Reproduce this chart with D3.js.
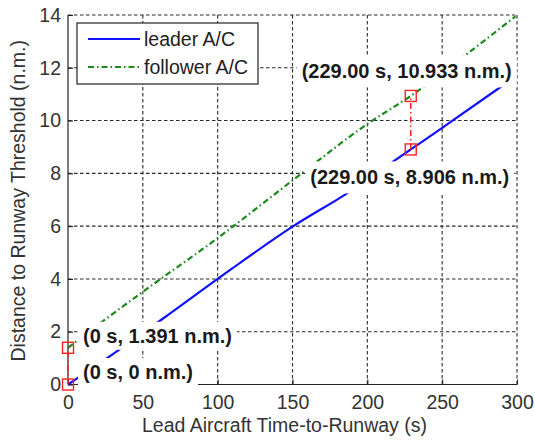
<!DOCTYPE html>
<html>
<head>
<meta charset="utf-8">
<script src="https://cdn.jsdelivr.net/npm/d3@7"></script>
<style>
  html, body { margin: 0; padding: 0; background: #fff; }
  svg { display: block; font-family: "Liberation Sans", Arial, sans-serif; }
</style>
</head>
<body>
<svg id="chart" width="535" height="440"></svg>
<script>
// ---- data ----
const leaderT = [0, 30, 63.5, 110, 150, 188, 216, 229, 250, 291];
const leaderD = [0, 1.15, 2.5, 4.41, 5.98, 7.3, 8.4, 8.906, 9.72, 11.35];
const followerT = [0, 25, 57, 88, 100, 155, 200, 229, 267, 299];
const followerD = [1.391, 2.47, 3.8, 5.05, 5.55, 7.95, 9.87, 10.933, 12.54, 13.95];
const xTicks = [0, 50, 100, 150, 200, 250, 300];
const yTicks = [0, 2, 4, 6, 8, 10, 12, 14];
const seriesNames = ["leader A/C", "follower A/C"];
const tipT = [0, 0, 229, 229];
const tipD = [0, 1.391, 8.906, 10.933];
const tipLabels = ["(0 s, 0 n.m.)", "(0 s, 1.391 n.m.)", "(229.00 s, 8.906 n.m.)", "(229.00 s, 10.933 n.m.)"];
const xLabel = "Lead Aircraft Time-to-Runway (s)";
const yLabel = "Distance to Runway Threshold (n.m.)";

// ---- layout ----
const L = 68, R = 517, T = 15, B = 384.5;
const svg = d3.select("#chart");
const x = d3.scaleLinear().domain([0, 300]).range([L, R]);
const y = d3.scaleLinear().domain([0, 14]).range([B, T]);

const FS = 19.5;
const gridColor = "#2a2a2a";
const dash = "3.5,2.5";

// grid
const g = svg.append("g");
g.selectAll("line.vg").data(xTicks.filter(d => d > 0)).join("line")
  .attr("x1", d => x(d)).attr("x2", d => x(d)).attr("y1", y(0)).attr("y2", y(14))
  .attr("stroke", gridColor).attr("stroke-width", 1.1).attr("stroke-dasharray", dash);
g.selectAll("line.hg").data(yTicks.filter(d => d > 0)).join("line")
  .attr("x1", x(0)).attr("x2", x(300)).attr("y1", d => y(d)).attr("y2", d => y(d))
  .attr("stroke", gridColor).attr("stroke-width", 1.1).attr("stroke-dasharray", dash);

// axes (left and bottom, ticks inward)
const xAxis = d3.axisBottom(x).tickValues(xTicks).tickSize(-5).tickPadding(11).tickFormat(d3.format("d"));
const yAxis = d3.axisLeft(y).tickValues(yTicks).tickSize(-5).tickPadding(7).tickFormat(d3.format("d"));
const gx = svg.append("g").attr("transform", `translate(0,${B})`).call(xAxis);
const gy = svg.append("g").attr("transform", `translate(${L},0)`).call(yAxis);
[gx, gy].forEach(a => {
  a.select(".domain").attr("stroke", "#222").attr("stroke-width", 1.2);
  a.selectAll(".tick line").attr("stroke", "#222").attr("stroke-width", 1.1);
  a.selectAll(".tick text").attr("font-size", FS).attr("fill", "#333")
    .attr("font-family", "Liberation Sans, Arial, sans-serif");
});
gx.select(".domain").attr("d", `M${L},0H${R}`);
gy.select(".domain").attr("d", `M0,${B}V${T}`);

// lines
const leader = leaderT.map((t, i) => [t, leaderD[i]]);
const follower = followerT.map((t, i) => [t, followerD[i]]);
const line = d3.line().x(d => x(d[0])).y(d => y(d[1])).curve(d3.curveMonotoneX);
svg.append("path").datum(leader).attr("d", line)
  .attr("fill", "none").attr("stroke", "#1010ff").attr("stroke-width", 2.2);
svg.append("path").datum(follower).attr("d", line)
  .attr("fill", "none").attr("stroke", "#1a8a1a").attr("stroke-width", 2.2)
  .attr("stroke-dasharray", "6,3,1.5,3");

// data tip labels with white boxes
const tipOffsets = [[15, -12.5, "start", 3], [15, -12, "start", 3], [-1, 28, "middle", 5], [-4, -24.5, "middle", 5]];
const tipG = svg.append("g");
tipLabels.forEach((lab, i) => {
  const [dx, dy, anchor, pad] = tipOffsets[i];
  const gg = tipG.append("g");
  const rect = gg.append("rect").attr("fill", "#fff");
  const txt = gg.append("text")
    .attr("x", x(tipT[i]) + dx).attr("y", y(tipD[i]) + dy)
    .attr("dy", "0.35em").attr("text-anchor", anchor)
    .attr("font-size", 20).attr("font-weight", "bold").attr("fill", "#1a1a1a")
    .text(lab);
  const bb = txt.node().getBBox();
  rect.attr("x", bb.x - 5).attr("y", bb.y - pad).attr("width", bb.width + 10).attr("height", bb.height + 2 * pad);
});

// red connectors and squares
const pairs = [[0, 1], [2, 3]];
pairs.forEach(([a, b]) => {
  svg.append("line")
    .attr("x1", x(tipT[a])).attr("x2", x(tipT[b]))
    .attr("y1", y(tipD[a])).attr("y2", y(tipD[b]))
    .attr("stroke", "#ff2020").attr("stroke-width", 1.5).attr("stroke-dasharray", "6,3,1.5,3");
});
svg.selectAll("rect.mk").data(tipT.map((t, i) => [t, tipD[i]])).join("rect")
  .attr("class", "mk")
  .attr("x", d => x(d[0]) - 5.5).attr("y", d => y(d[1]) - 5.5)
  .attr("width", 11).attr("height", 11)
  .attr("fill", "none").attr("stroke", "#ff2020").attr("stroke-width", 1.4);

// legend
const lg = svg.append("g");
lg.append("rect").attr("x", 77).attr("y", 23).attr("width", 181).attr("height", 61)
  .attr("fill", "#fff").attr("stroke", "#222").attr("stroke-width", 1.2);
const legStyles = [{ c: "#1010ff", d: null }, { c: "#1a8a1a", d: "6,3,1.5,3" }];
seriesNames.forEach((n, i) => {
  const yy = 39 + i * 28;
  lg.append("line").attr("x1", 88).attr("x2", 140).attr("y1", yy).attr("y2", yy)
    .attr("stroke", legStyles[i].c).attr("stroke-width", 2.2)
    .attr("stroke-dasharray", legStyles[i].d);
  lg.append("text").attr("x", 144).attr("y", yy).attr("dy", "0.35em")
    .attr("font-size", FS).attr("fill", "#222").text(n);
});

// axis titles
svg.append("text").attr("x", (L + R) / 2 - 8).attr("y", 432)
  .attr("text-anchor", "middle").attr("font-size", FS).attr("fill", "#333").text(xLabel);
svg.append("text").attr("transform", `translate(25,${(T + B) / 2 + 1}) rotate(-90)`)
  .attr("text-anchor", "middle").attr("font-size", FS).attr("fill", "#333").text(yLabel);
</script>
</body>
</html>
